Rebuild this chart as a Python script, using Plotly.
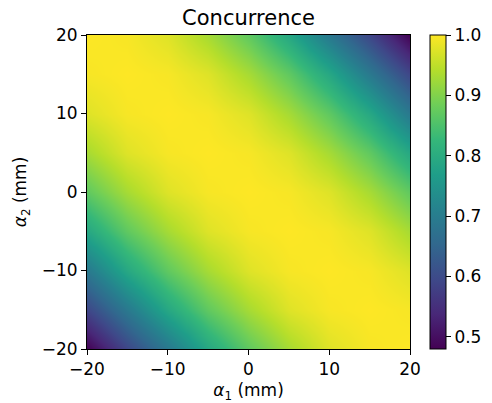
import plotly.graph_objects as go

alpha1 = [-20, -15, -10, -5, 0, 5, 10, 15, 20]
alpha2 = [-20, -15, -10, -5, 0, 5, 10, 15, 20]
concurrence = [
    [0.48, 0.59, 0.69, 0.79, 0.87, 0.93, 0.975, 0.995, 1.00],
    [0.59, 0.69, 0.79, 0.87, 0.93, 0.975, 0.995, 1.00, 0.995],
    [0.69, 0.79, 0.87, 0.93, 0.975, 0.995, 1.00, 0.995, 0.975],
    [0.79, 0.87, 0.93, 0.975, 0.995, 1.00, 0.995, 0.975, 0.93],
    [0.87, 0.93, 0.975, 0.995, 1.00, 0.995, 0.975, 0.93, 0.87],
    [0.93, 0.975, 0.995, 1.00, 0.995, 0.975, 0.93, 0.87, 0.79],
    [0.975, 0.995, 1.00, 0.995, 0.975, 0.93, 0.87, 0.79, 0.69],
    [0.995, 1.00, 0.995, 0.975, 0.93, 0.87, 0.79, 0.69, 0.59],
    [1.00, 0.995, 0.975, 0.93, 0.87, 0.79, 0.69, 0.59, 0.48],
]
axis_ticks = [-20, -10, 0, 10, 20]
axis_ticktext = ["\u221220", "\u221210", "0", "10", "20"]
cbar_ticks = [0.5, 0.6, 0.7, 0.8, 0.9, 1.0]
cbar_ticktext = ["0.5", "0.6", "0.7", "0.8", "0.9", "1.0"]

FONT = "DejaVu Sans"
TICK_SIZE = 17

fig = go.Figure(
    go.Heatmap(
        x=alpha1,
        y=alpha2,
        z=concurrence,
        colorscale="Viridis",
        zmin=0.48,
        zmax=1.0,
        zsmooth="best",
        colorbar=dict(
            x=(430 - 87) / 323,
            xanchor="left",
            xpad=0,
            ypad=0,
            y=0.5,
            yanchor="middle",
            len=1.0,
            lenmode="fraction",
            thickness=16,
            thicknessmode="pixels",
            outlinewidth=1,
            outlinecolor="black",
            tickvals=cbar_ticks,
            ticktext=cbar_ticktext,
            ticks="outside",
            ticklen=5,
            tickcolor="black",
            tickfont=dict(family=FONT, size=TICK_SIZE, color="black"),
        ),
    )
)

axis_common = dict(
    range=[-20, 20],
    tickvals=axis_ticks,
    ticktext=axis_ticktext,
    ticks="outside",
    ticklen=5,
    tickcolor="black",
    showline=True,
    linecolor="black",
    linewidth=1,
    mirror=True,
    showgrid=False,
    zeroline=False,
    automargin=False,
    tickfont=dict(family=FONT, size=TICK_SIZE, color="black"),
)

fig.update_layout(
    width=492,
    height=403,
    margin=dict(l=87, r=82, t=35, b=54, autoexpand=False),
    paper_bgcolor="white",
    plot_bgcolor="white",
    title=dict(
        text="Concurrence",
        font=dict(family=FONT, size=21, color="black"),
        x=(87 + 410) / 2 / 492,
        xanchor="center",
        y=1 - 18 / 403,
        yanchor="middle",
    ),
    xaxis=dict(
        **axis_common,
        title=dict(text="<i>α</i><sub>1</sub> (mm)", font=dict(family=FONT, size=TICK_SIZE, color="black"), standoff=8),
    ),
    yaxis=dict(
        **axis_common,
        title=dict(text="<i>α</i><sub>2</sub> (mm)", font=dict(family=FONT, size=TICK_SIZE, color="black"), standoff=10),
    ),
)

fig.write_html("out.html")
